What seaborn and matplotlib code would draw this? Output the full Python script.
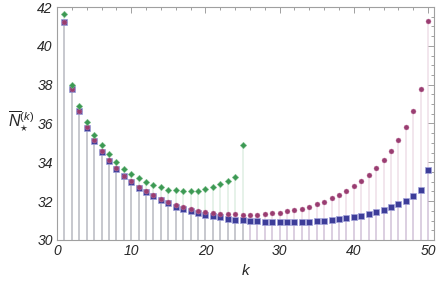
import numpy as np
import pandas as pd
import seaborn as sns
import matplotlib.pyplot as plt
from matplotlib.ticker import MultipleLocator

# データ
k_all = list(range(1, 51))
k_green = list(range(1, 26))

blue_vals = [41.21, 37.78, 36.63, 35.78, 35.11, 34.53, 34.07, 33.66, 33.28, 32.99,
             32.70, 32.47, 32.26, 32.06, 31.90, 31.72, 31.60, 31.49, 31.38, 31.29,
             31.22, 31.16, 31.10, 31.05, 31.03, 30.99, 30.96, 30.94, 30.93, 30.93,
             30.93, 30.93, 30.93, 30.94, 30.98, 31.00, 31.03, 31.08, 31.13, 31.18,
             31.26, 31.34, 31.44, 31.56, 31.70, 31.86, 32.03, 32.29, 32.60, 33.63]

purple_vals = [41.22, 37.80, 36.65, 35.80, 35.13, 34.56, 34.10, 33.69, 33.32, 33.02,
               32.74, 32.51, 32.30, 32.10, 31.94, 31.81, 31.68, 31.58, 31.50, 31.44,
               31.38, 31.36, 31.34, 31.32, 31.31, 31.31, 31.31, 31.33, 31.37, 31.41,
               31.47, 31.53, 31.61, 31.72, 31.85, 31.98, 32.14, 32.31, 32.52, 32.76,
               33.04, 33.35, 33.71, 34.12, 34.58, 35.15, 35.82, 36.64, 37.79, 41.26]

green_vals = [41.64, 37.98, 36.90, 36.06, 35.42, 34.87, 34.43, 34.02, 33.67, 33.40,
              33.17, 32.98, 32.84, 32.71, 32.60, 32.55, 32.52, 32.52, 32.54, 32.63,
              32.73, 32.87, 33.06, 33.25, 34.88]

blue_df = pd.DataFrame({'k': k_all, 'N': blue_vals})
purple_df = pd.DataFrame({'k': k_all, 'N': purple_vals})
green_df = pd.DataFrame({'k': k_green, 'N': green_vals})

sns.set_style('white')
plt.rcParams['font.family'] = ['Liberation Sans', 'DejaVu Sans']
plt.rcParams['mathtext.fontset'] = 'custom'
plt.rcParams['mathtext.it'] = 'Liberation Sans:italic'
plt.rcParams['mathtext.rm'] = 'Liberation Sans'

c_blue = '#3d3d99'
c_purple = '#993d71'
c_green = '#3d9954'

fig = plt.figure(figsize=(4.36, 2.81), dpi=100)
ax = fig.add_axes([0.1307, 0.146, 0.8647, 0.829])

y0 = 30
# ステム
for df, c in [(blue_df, c_blue), (purple_df, c_purple), (green_df, c_green)]:
    ax.vlines(df['k'], y0, df['N'], color=c, alpha=0.15, linewidth=1.2, zorder=1)

# マーカー
sns.scatterplot(data=blue_df, x='k', y='N', marker='s', s=19, color=c_blue,
                edgecolor='#a4a4da', linewidth=0.5, ax=ax, zorder=3)
sns.scatterplot(data=purple_df, x='k', y='N', marker='o', s=13, color=c_purple,
                edgecolor='#c07aa2', linewidth=0.3, ax=ax, zorder=4)
sns.scatterplot(data=green_df, x='k', y='N', marker='D', s=11, color=c_green,
                edgecolor='#7cc08c', linewidth=0.3, ax=ax, zorder=5)

ax.set_xlim(0, 50.8)
ax.set_ylim(30, 42)
ax.xaxis.set_major_locator(MultipleLocator(10))
ax.xaxis.set_minor_locator(MultipleLocator(2))
ax.yaxis.set_major_locator(MultipleLocator(2))
ax.yaxis.set_minor_locator(MultipleLocator(0.5))

for sp in ax.spines.values():
    sp.set_color('#a0a0a0')
    sp.set_linewidth(0.8)
ax.tick_params(which='both', direction='in', top=True, right=True,
               color='#a0a0a0', width=0.7)
ax.tick_params(which='major', length=4.5, labelsize=10, pad=3)
ax.tick_params(which='minor', length=2.5)
for lab in ax.get_xticklabels() + ax.get_yticklabels():
    lab.set_fontstyle('italic')

ax.set_xlabel('k', fontsize=11, fontstyle='italic', labelpad=4)
ax.set_ylabel('')
fig.text(0.048, 0.565, r'$\overline{N}_{\star}^{(k)}$', fontsize=11.5,
         ha='center', va='center')

plt.savefig('out.png', dpi=100)
